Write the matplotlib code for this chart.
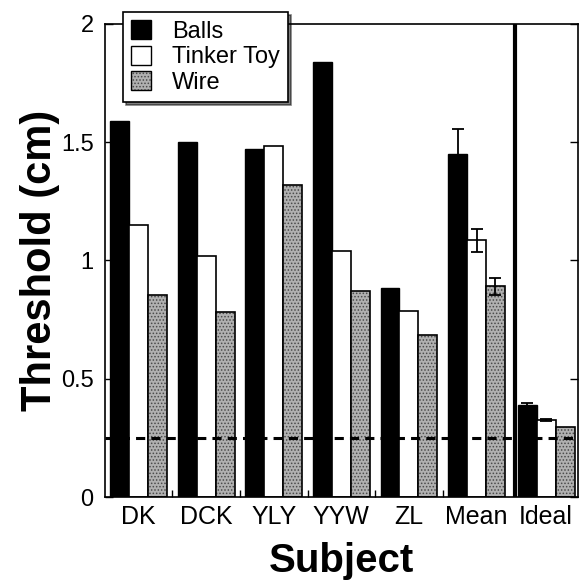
import numpy as np
import matplotlib
matplotlib.use('Agg')
import matplotlib.pyplot as plt
from matplotlib.patches import Patch

plt.rcParams['font.family'] = ['Liberation Sans', 'DejaVu Sans']
plt.rcParams['hatch.linewidth'] = 0.7

subjects = ['DK', 'DCK', 'YLY', 'YYW', 'ZL', 'Mean', 'Ideal']
balls = [1.59, 1.50, 1.47, 1.84, 0.885, 1.45, 0.39]
tinker = [1.15, 1.02, 1.485, 1.04, 0.785, 1.085, 0.325]
wire = [0.855, 0.78, 1.32, 0.87, 0.685, 0.89, 0.295]

# error bars only for Mean and Ideal
balls_err = [0, 0, 0, 0, 0, 0.105, 0.008]
tinker_err = [0, 0, 0, 0, 0, 0.05, 0.005]
wire_err = [0, 0, 0, 0, 0, 0.035, 0.0]

ideal_line = 0.25

fig = plt.figure(figsize=(5.82, 5.82), dpi=100)
ax = fig.add_axes([0.180, 0.146, 0.813, 0.813])

x = np.arange(len(subjects), dtype=float)
x[-1] += 0.03
w = 0.28
gray = '#b0b0b0'
dots = '#4a4a4a'

ax.bar(x - w, balls, w, color='black', edgecolor='black', linewidth=1, zorder=2)
ax.bar(x, tinker, w, color='white', edgecolor='black', linewidth=1.2, zorder=2)
ax.bar(x + w, wire, w, color=gray, edgecolor=dots, hatch='.....', linewidth=0, zorder=2)
ax.bar(x + w, wire, w, fill=False, edgecolor='black', linewidth=1.2, zorder=2)

# error bars (Mean, Ideal)
for off, vals, errs in [(-w, balls, balls_err), (0, tinker, tinker_err), (w, wire, wire_err)]:
    idx = [i for i, e in enumerate(errs) if e > 0]
    ax.errorbar(x[idx] + off, [vals[i] for i in idx], yerr=[errs[i] for i in idx],
                fmt='none', ecolor='black', elinewidth=1.3, capsize=4, capthick=1.3, zorder=3)

ax.axhline(ideal_line, color='black', linestyle=(0, (3, 2)), linewidth=2.2, zorder=4)
ax.axvline(5.57, color='black', linewidth=3, zorder=4)

ax.set_xlim(-0.5, 6.5)
ax.set_ylim(0, 2)
ax.set_yticks([0, 0.5, 1, 1.5, 2])
ax.set_yticklabels(['0', '0.5', '1', '1.5', '2'])
ax.set_xticks(x)
ax.set_xticklabels(subjects)
ax.set_xticks(np.arange(0.5, 5.0, 1.0), minor=True)
ax.tick_params(axis='x', which='major', length=0, labelsize=18, pad=6)
ax.tick_params(axis='x', which='minor', direction='in', length=5, width=1, top=False)
ax.tick_params(axis='y', direction='in', length=6, width=1, right=True, labelsize=17, pad=8)
for s in ax.spines.values():
    s.set_linewidth(1.2)

ax.set_xlabel('Subject', fontsize=29, fontweight='bold', labelpad=9)
ax.set_ylabel('Threshold (cm)', fontsize=30, fontweight='bold', labelpad=1)

h_balls = Patch(facecolor='black', edgecolor='black')
h_tinker = Patch(facecolor='white', edgecolor='black')
h_wire = (Patch(facecolor=gray, edgecolor=dots, hatch='.....', linewidth=0),
          Patch(fill=False, edgecolor='black'))
leg = ax.legend([h_balls, h_tinker, h_wire], ['Balls', 'Tinker Toy', 'Wire'],
                loc='upper left', bbox_to_anchor=(0.038, 1.025), fontsize=17,
                frameon=True, fancybox=False, shadow={'color': 'black'},
                handlelength=0.85, handleheight=0.85, handletextpad=0.9,
                borderpad=0.35, borderaxespad=0, labelspacing=0.12)
leg.get_frame().set_edgecolor('black')
leg.get_frame().set_linewidth(1.2)
leg.set_zorder(10)

fig.savefig('out.png', dpi=100)
